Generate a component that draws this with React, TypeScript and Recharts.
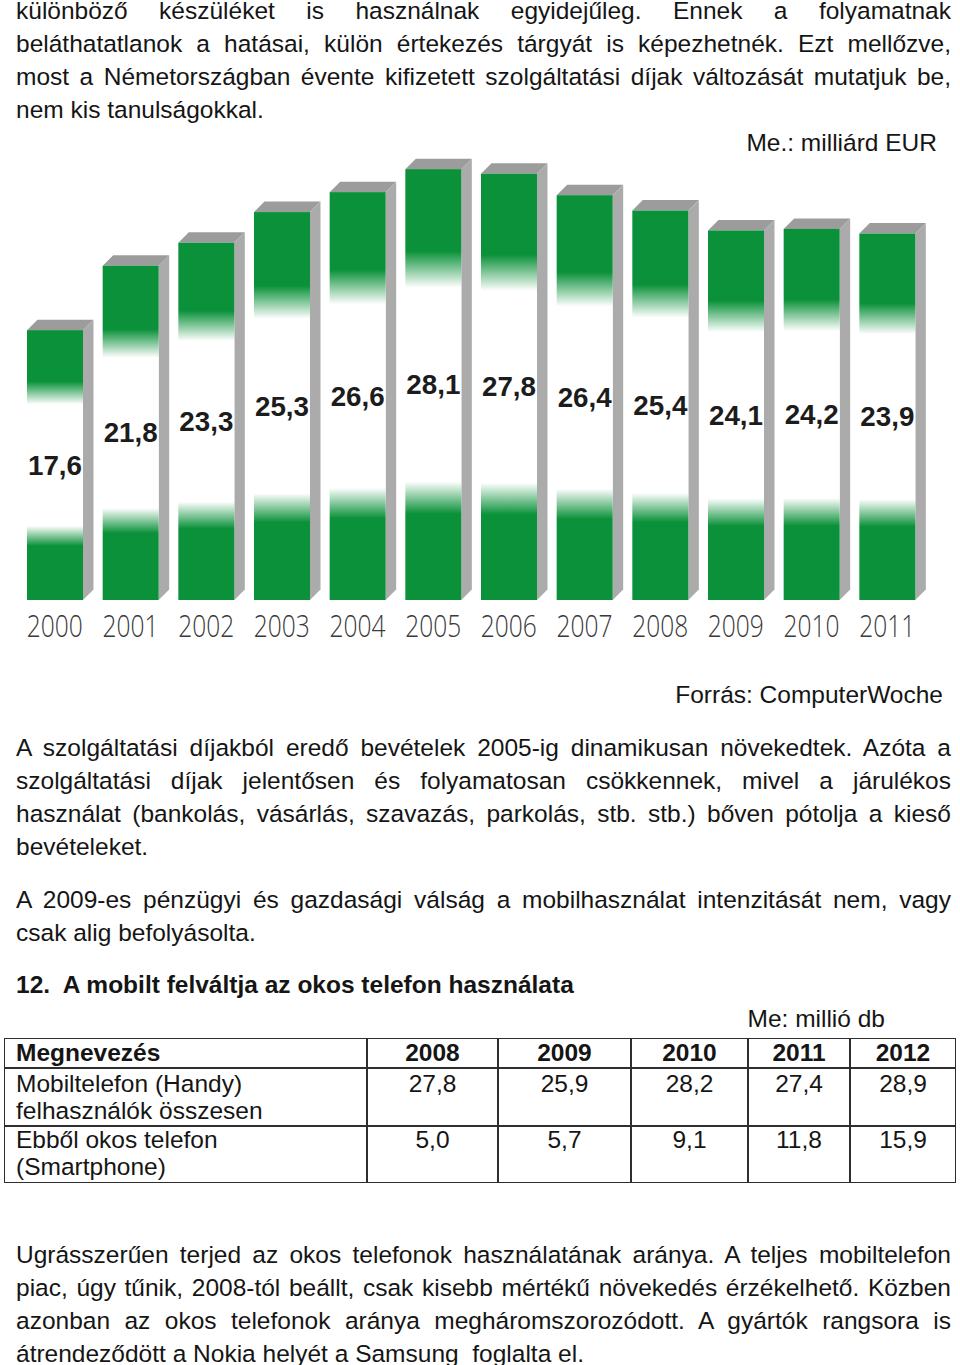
import React from 'react';
import { BarChart, Bar, XAxis, YAxis, LabelList } from 'recharts';

// ---------- data ----------
const years = ['2000', '2001', '2002', '2003', '2004', '2005', '2006', '2007', '2008', '2009', '2010', '2011'];
const revenue = [17.6, 21.8, 23.3, 25.3, 26.6, 28.1, 27.8, 26.4, 25.4, 24.1, 24.2, 23.9];

const introLines = [
  'különböző készüléket is használnak egyidejűleg. Ennek a folyamatnak',
  'beláthatatlanok a hatásai, külön értekezés tárgyát is képezhetnék. Ezt mellőzve,',
  'most a Németországban évente kifizetett szolgáltatási díjak változását mutatjuk be,',
  'nem kis tanulságokkal.',
];
const unitLabel = 'Me.: milliárd EUR';
const sourceLabel = 'Forrás: ComputerWoche';
const para2Lines = [
  'A szolgáltatási díjakból eredő bevételek 2005-ig dinamikusan növekedtek. Azóta a',
  'szolgáltatási díjak jelentősen és folyamatosan csökkennek, mivel a járulékos',
  'használat (bankolás, vásárlás, szavazás, parkolás, stb. stb.) bőven pótolja a kieső',
  'bevételeket.',
];
const para3Lines = [
  'A 2009-es pénzügyi és gazdasági válság a mobilhasználat intenzitását nem, vagy',
  'csak alig befolyásolta.',
];
const headingText = '12.\u00a0 A mobilt felváltja az okos telefon használata';
const tableUnit = 'Me: millió db';
const tableHeadFirst = 'Megnevezés';
const tableYears = ['2008', '2009', '2010', '2011', '2012'];
const rowLabels = [
  ['Mobiltelefon (Handy)', 'felhasználók összesen'],
  ['Ebből okos telefon', '(Smartphone)'],
];
const mobileUsers = [27.8, 25.9, 28.2, 27.4, 28.9];
const smartphoneUsers = [5.0, 5.7, 9.1, 11.8, 15.9];
const finalLines = [
  'Ugrásszerűen terjed az okos telefonok használatának aránya. A teljes mobiltelefon',
  'piac, úgy tűnik, 2008-tól beállt, csak kisebb mértékű növekedés érzékelhető. Közben',
  'azonban az okos telefonok aránya megháromszorozódott. A gyártók rangsora is',
  'átrendeződött a Nokia helyét a Samsung\u00a0 foglalta el.',
];

const chartData = years.map((y, i) => ({ year: y, value: revenue[i] }));

// ---------- styles ----------
const FONT = "'Liberation Sans', Arial, Helvetica, sans-serif";
const FS = 24.5;
const LH = 33;
const BASE_OFF = 24.6;
const TEXT_COLOR = '#151515';
const GREEN = '#0a9139';
const fmt = (v: number) => v.toFixed(1).replace('.', ',');

type LineProps = { text: string; baseline: number; justify?: boolean; bold?: boolean; right?: number };
const Line = ({ text, baseline, justify, bold, right }: LineProps) => {
  const style: React.CSSProperties = {
    position: 'absolute',
    top: baseline - BASE_OFF,
    height: LH,
    lineHeight: `${LH}px`,
    fontSize: FS,
    fontFamily: FONT,
    color: TEXT_COLOR,
    fontWeight: bold ? 'bold' : 'normal',
    whiteSpace: justify ? 'normal' : 'nowrap',
  };
  if (right !== undefined) {
    style.left = 0;
    style.width = right;
    style.textAlign = 'right';
  } else {
    style.left = 16;
    style.width = 935;
    style.textAlign = justify ? 'justify' : 'left';
    (style as any).textAlignLast = justify ? 'justify' : 'left';
  }
  return <div style={style}>{text}</div>;
};

const Paragraph = ({ lines, baselines }: { lines: string[]; baselines: number[] }) => (
  <>
    {lines.map((t, i) => (
      <Line key={i} text={t} baseline={baselines[i]} justify={i < lines.length - 1} />
    ))}
  </>
);

// ---------- 3D bar ----------
const DEPTH = 10.5;
const Bar3D = (props: any) => {
  const { x, y, width, height, index } = props;
  const d = DEPTH;
  const id = `bg-${index}`;
  return (
    <g>
      <defs>
        <linearGradient id={id} x1="0" y1="0" x2="0" y2="1">
          <stop offset="0" stopColor={GREEN} />
          <stop offset="0.19" stopColor={GREEN} />
          <stop offset="0.275" stopColor="#ffffff" />
          <stop offset="0.725" stopColor="#ffffff" />
          <stop offset="0.8" stopColor={GREEN} />
          <stop offset="1" stopColor={GREEN} />
        </linearGradient>
      </defs>
      <polygon
        points={`${x},${y} ${x + d},${y - d} ${x + width + d},${y - d} ${x + width},${y}`}
        fill="#9c9c9c"
      />
      <polygon
        points={`${x + width},${y} ${x + width + d},${y - d} ${x + width + d},${y + height - d} ${x + width},${y + height}`}
        fill="#ababab"
      />
      <rect x={x} y={y} width={width} height={height} fill={`url(#${id})`} />
    </g>
  );
};

const ValueLabel = (props: any) => {
  const { x, y, width, height, value } = props;
  return (
    <text
      x={x + width / 2}
      y={y + height / 2}
      textAnchor="middle"
      dominantBaseline="central"
      fontFamily={FONT}
      fontWeight="bold"
      fontSize={28}
      fill="#1c1c1c"
      textLength={54}
      lengthAdjust="spacingAndGlyphs"
    >
      {fmt(value)}
    </text>
  );
};

const YearTick = (props: any) => {
  const { x, y, payload } = props;
  return (
    <text
      x={x}
      y={y + 25}
      textAnchor="middle"
      dominantBaseline="central"
      fontFamily="'Open Sans', 'Liberation Sans', Arial, sans-serif"
      fontWeight={300}
      fontSize={31}
      fill="#3a3a3a"
      textLength={56}
      lengthAdjust="spacingAndGlyphs"
    >
      {payload.value}
    </text>
  );
};

// ---------- table ----------
const TB = { left: 4, right: 956, top: 1038, r1: 1068, r2: 1126, bottom: 1183 };
const colEdges = [4, 367, 498, 631, 748, 850, 956];
const BORDER = '#2e2e2e';
const BW = 1.6;

const Table = () => {
  const cell = (text: string, left: number, width: number, baseline: number, bold = false, center = true, key?: string) => (
    <div
      key={key}
      style={{
        position: 'absolute',
        left,
        width,
        top: baseline - 21.9,
        height: 27.5,
        lineHeight: '27.5px',
        fontSize: FS,
        fontFamily: FONT,
        color: TEXT_COLOR,
        fontWeight: bold ? 'bold' : 'normal',
        textAlign: center ? 'center' : 'left',
        whiteSpace: 'nowrap',
      }}
    >
      {text}
    </div>
  );
  const rows = [mobileUsers, smartphoneUsers];
  const rowBase = [[1092, 1119], [1148, 1175]];
  return (
    <>
      <div
        style={{
          position: 'absolute',
          left: TB.left,
          top: TB.top,
          width: TB.right - TB.left,
          height: TB.bottom - TB.top,
          border: `${BW}px solid ${BORDER}`,
          boxSizing: 'border-box',
        }}
      />
      {[TB.r1, TB.r2].map((yy) => (
        <div key={`h${yy}`} style={{ position: 'absolute', left: TB.left, width: TB.right - TB.left, top: yy - BW / 2, height: BW, background: BORDER }} />
      ))}
      {colEdges.slice(1, -1).map((xx) => (
        <div key={`v${xx}`} style={{ position: 'absolute', left: xx - BW / 2, width: BW, top: TB.top, height: TB.bottom - TB.top, background: BORDER }} />
      ))}
      {cell(tableHeadFirst, 16, 340, 1061, true, false, 'hf')}
      {tableYears.map((y, i) => cell(y, colEdges[i + 1], colEdges[i + 2] - colEdges[i + 1], 1061, true, true, `hy${i}`))}
      {rowLabels.map((lbl, r) => lbl.map((t, k) => cell(t, 16, 350, rowBase[r][k], false, false, `rl${r}${k}`)))}
      {rows.map((vals, r) =>
        vals.map((v, i) => cell(fmt(v), colEdges[i + 1], colEdges[i + 2] - colEdges[i + 1], rowBase[r][0], false, true, `v${r}${i}`))
      )}
    </>
  );
};

export default function App() {
  return (
    <div style={{ position: 'absolute', left: 0, top: 0, width: 960, height: 1365, overflow: 'hidden', background: '#ffffff' }}>
      <Paragraph lines={introLines} baselines={[19, 52, 85, 118]} />
      <Line text={unitLabel} baseline={151} right={937} />

      <div style={{ position: 'absolute', left: 0, top: 140, width: 960, height: 510 }}>
        <BarChart width={960} height={510} data={chartData} margin={{ top: 0, right: 35, bottom: 0, left: 17 }} barCategoryGap={0}>
          <XAxis dataKey="year" axisLine={false} tickLine={false} tickSize={0} tickMargin={0} height={50} tick={<YearTick />} interval={0} />
          <YAxis hide domain={[0, 30]} />
          <Bar dataKey="value" barSize={56} shape={<Bar3D />} isAnimationActive={false}>
            <LabelList dataKey="value" content={<ValueLabel />} />
          </Bar>
        </BarChart>
      </div>

      <Line text={sourceLabel} baseline={703} right={943} />
      <Paragraph lines={para2Lines} baselines={[756, 789, 822, 855]} />
      <Paragraph lines={para3Lines} baselines={[908, 941]} />
      <Line text={headingText} baseline={993} bold />
      <Line text={tableUnit} baseline={1027} right={885} />
      <Table />
      <Paragraph lines={finalLines} baselines={[1263, 1296, 1329, 1362]} />
    </div>
  );
}
